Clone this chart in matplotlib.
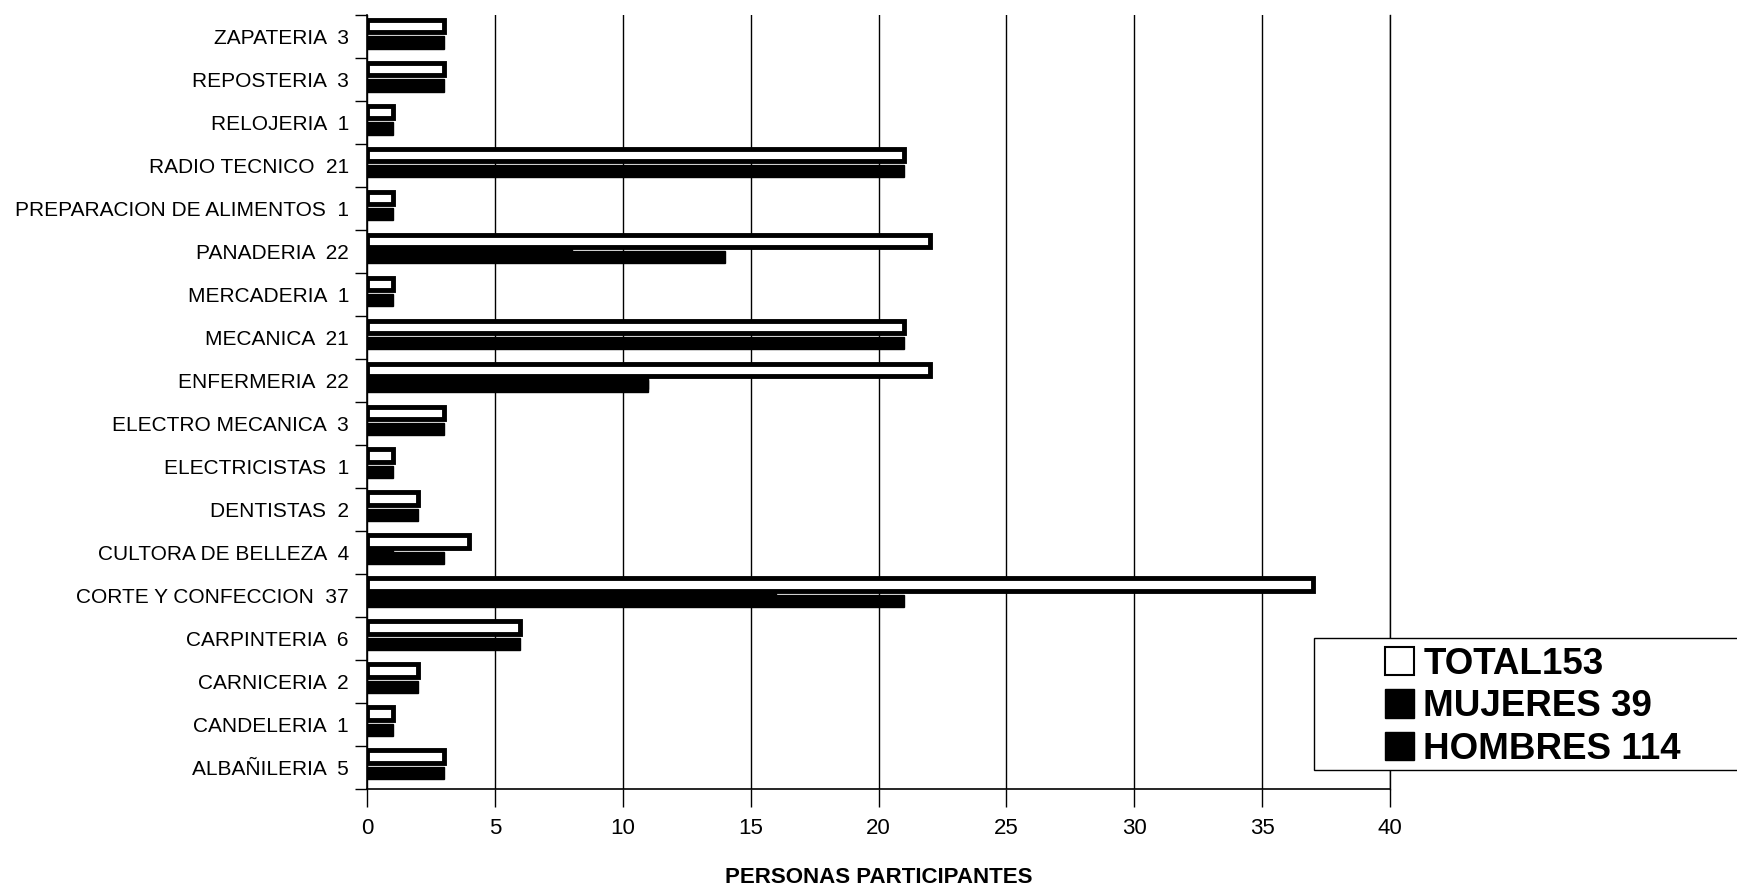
import numpy as np
import matplotlib
matplotlib.use("Agg")
import matplotlib.pyplot as plt
from matplotlib.patches import Patch, Rectangle

plt.rcParams["font.family"] = ["Liberation Sans", "DejaVu Sans"]

# categories listed bottom to top (as drawn)
categories = [
    "ALBAÑILERIA", "CANDELERIA", "CARNICERIA", "CARPINTERIA",
    "CORTE Y CONFECCION", "CULTORA DE BELLEZA", "DENTISTAS", "ELECTRICISTAS",
    "ELECTRO MECANICA", "ENFERMERIA", "MECANICA", "MERCADERIA", "PANADERIA",
    "PREPARACION DE ALIMENTOS", "RADIO TECNICO", "RELOJERIA", "REPOSTERIA",
    "ZAPATERIA",
]
label_counts = [5, 1, 2, 6, 37, 4, 2, 1, 3, 22, 21, 1, 22, 1, 21, 1, 3, 3]
total = [3, 1, 2, 6, 37, 4, 2, 1, 3, 22, 21, 1, 22, 1, 21, 1, 3, 3]
mujeres = [0, 0, 0, 0, 16, 1, 0, 0, 0, 11, 0, 0, 8, 0, 0, 0, 0, 0]
hombres = [3, 1, 2, 6, 21, 3, 2, 1, 3, 11, 21, 1, 14, 1, 21, 1, 3, 3]
legend_labels = ["TOTAL153", "MUJERES 39", "HOMBRES 114"]
x_ticks = [0, 5, 10, 15, 20, 25, 30, 35, 40]

fig = plt.figure(figsize=(17.37, 8.89), dpi=100)
ax = fig.add_axes([0.2113, 0.1125, 0.589, 0.8701])

y = np.arange(len(categories))

# white total bar on top, black bars (mujeres behind, hombres in front) below
ax.barh(y + 0.255, total, height=0.29, color="white", edgecolor="black",
        linewidth=3.5, zorder=3)
ax.barh(y - 0.06, mujeres, height=0.26, color="black", edgecolor="black",
        linewidth=1, zorder=3)
ax.barh(y - 0.125, hombres, height=0.29, color="black", edgecolor="black",
        linewidth=1, zorder=4)

ax.set_xlim(0, 40)
ax.set_ylim(-0.5, len(categories) - 0.5)

ax.set_xticks(x_ticks)
ax.set_xticklabels([str(t) for t in x_ticks], fontsize=16)
ax.tick_params(axis="x", direction="out", length=13, width=1, pad=8)

ax.set_yticks(y)
ax.set_yticklabels([c + "  " + str(n) for c, n in zip(categories, label_counts)],
                   fontsize=15)
ax.tick_params(axis="y", length=0, pad=13)
ax.set_yticks(np.arange(len(categories) + 1) - 0.5, minor=True)
ax.tick_params(axis="y", which="minor", direction="out", length=9, width=1)

ax.grid(True, axis="x", color="black", linewidth=1)
ax.set_axisbelow(True)
ax.spines["top"].set_visible(False)
ax.spines["right"].set_linewidth(1)
ax.spines["left"].set_linewidth(1.2)
ax.spines["bottom"].set_linewidth(1.2)

ax.set_xlabel("PERSONAS PARTICIPANTES", fontsize=16, fontweight="bold",
              labelpad=20)

# legend box
fig.add_artist(Rectangle((0.7565, 0.134), 0.30, 0.148, transform=fig.transFigure,
                         facecolor="white", edgecolor="black", linewidth=1,
                         zorder=5))
handles = [
    Patch(facecolor="white", edgecolor="black", linewidth=1.5),
    Patch(facecolor="black", edgecolor="black"),
    Patch(facecolor="black", edgecolor="black"),
]
leg = fig.legend(handles, legend_labels, loc="center left",
                 bbox_to_anchor=(0.7865, 0.205), frameon=False,
                 prop={"size": 26.5, "weight": "bold"}, handlelength=0.8,
                 handleheight=0.8, handletextpad=0.25, labelspacing=0.2,
                 borderpad=0)
leg.set_zorder(6)

fig.savefig("out.png", dpi=100)
